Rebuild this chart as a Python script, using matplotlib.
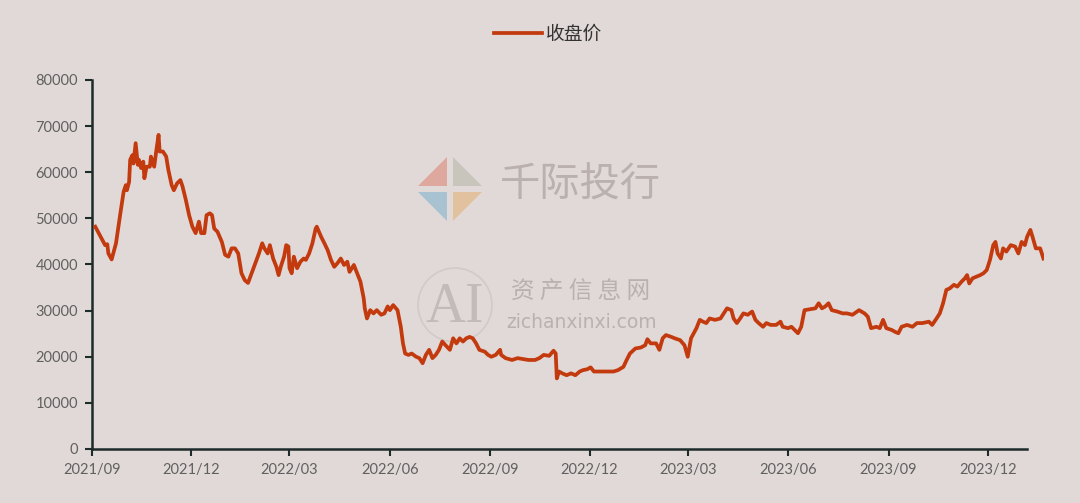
import pandas as pd
import numpy as np
import matplotlib.pyplot as plt
import matplotlib.dates as mdates
from matplotlib.patches import Circle, Polygon
from matplotlib.transforms import IdentityTransform


# =====================================
# Data
# =====================================

START_DATE = "2021-09-01"

# days after 2021-09-01
day_offsets = [
    3, 7, 12, 14, 15, 18, 22, 26, 29, 31,
    32, 34, 35, 37, 38, 40, 42, 43, 45, 47,
    48, 50, 53, 54, 57, 59, 61, 62, 65, 68,
    70, 73, 75, 78, 81, 83, 86, 89, 92, 95,
    98, 100, 103, 105, 108, 110, 112, 115, 119, 122,
    125, 128, 131, 134, 137, 140, 143, 148, 153, 156,
    158, 161, 163, 166, 169, 171, 173, 176, 178, 180,
    181, 183, 185, 188, 191, 194, 196, 199, 202, 205,
    206, 210, 213, 216, 219, 222, 225, 228, 231, 234,
    236, 240, 243, 246, 249, 250, 252, 255, 258, 261,
    265, 268, 271, 273, 276, 280, 283, 285, 287, 290,
    293, 297, 300, 303, 306, 309, 312, 315, 318, 321,
    324, 328, 331, 334, 337, 340, 343, 346, 349, 352,
    355, 360, 363, 366, 370, 374, 375, 379, 385, 390,
    395, 400, 406, 410, 414, 419, 423, 425, 426, 428,
    431, 435, 439, 443, 447, 450, 454, 457, 460, 465,
    471, 478, 482, 487, 490, 493, 498, 503, 507, 509,
    512, 517, 520, 523, 526, 531, 534, 539, 543, 546,
    549, 554, 557, 560, 563, 566, 571, 576, 579, 582,
    586, 588, 591, 594, 597, 601, 605, 608, 611, 615,
    618, 622, 627, 631, 633, 638, 641, 644, 647, 650,
    653, 658, 663, 666, 669, 672, 675, 678, 683, 688,
    692, 697, 703, 708, 711, 714, 719, 722, 725, 728,
    733, 736, 739, 742, 747, 752, 756, 761, 767, 770,
    774, 777, 780, 783, 786, 790, 793, 797, 800, 802,
    804, 807, 811, 814, 817, 820, 823, 826, 828, 830,
    833, 835, 838, 842, 846, 849, 852, 855, 857, 860,
    862, 865, 869, 871, 872
]

close_price = [
    48200, 46400, 44200, 44400, 42400, 41100, 44600, 51100, 55800, 57200,
    56100, 57900, 62700, 63700, 61900, 66300, 61600, 62700, 60900, 62300,
    58700, 61200, 61200, 63400, 61200, 64800, 68100, 64500, 64500, 63400,
    60500, 57200, 56100, 57600, 58300, 56900, 54000, 50700, 48200, 46800,
    49300, 46800, 46800, 50700, 51100, 50700, 47800, 47100, 44900, 42100,
    41700, 43500, 43500, 42400, 38100, 36600, 36000, 39200, 42400, 44600,
    43500, 42400, 44200, 41300, 39500, 37700, 39500, 41700, 44200, 43900,
    39200, 38100, 41700, 39200, 40600, 41300, 41000, 42400, 44600, 47800,
    48200, 46000, 44600, 43100, 41000, 39500, 40300, 41300, 39900, 40600,
    38400, 39900, 38100, 36300, 32700, 30500, 28300, 30100, 29400, 30100,
    29100, 29400, 30900, 30100, 31200, 30100, 26500, 22900, 20700, 20400,
    20700, 20000, 19700, 18600, 20400, 21500, 19700, 20400, 21500, 23300,
    22500, 21500, 24000, 22900, 24000, 23300, 24000, 24300, 24000, 22900,
    21500, 21100, 20400, 20000, 20400, 21500, 20400, 19700, 19300, 19700,
    19500, 19300, 19300, 19700, 20400, 20200, 21300, 20700, 15300, 16800,
    16400, 16000, 16400, 16000, 16800, 17100, 17300, 17700, 16800, 16800,
    16800, 16800, 17100, 17800, 19300, 20700, 21800, 22000, 22500, 23800,
    22900, 22900, 21500, 24000, 24700, 24300, 24000, 23600, 22500, 20000,
    24000, 26200, 28000, 27600, 27300, 28300, 28000, 28300, 29400, 30500,
    30100, 28300, 27300, 28300, 29400, 29100, 29800, 28000, 27300, 26500,
    27300, 26900, 26900, 27600, 26500, 26200, 26500, 25800, 25100, 26500,
    30100, 30300, 30500, 31600, 30500, 30900, 31600, 30100, 29800, 29400,
    29400, 29100, 30100, 29400, 28700, 26200, 26500, 26200, 28000, 26200,
    25800, 25400, 25100, 26500, 26900, 26500, 27300, 27300, 27600, 26900,
    28300, 29400, 31600, 34500, 34800, 35600, 35200, 36300, 37000, 37700,
    35900, 37000, 37400, 37700, 38100, 38800, 41000, 44200, 44900, 42400,
    41300, 43500, 42800, 44200, 43900, 42400, 44900, 44200, 46000, 47500,
    46000, 43500, 43500, 42000, 41300
]

series_name = "收盘价"

y_ticks = [0, 10000, 20000, 30000, 40000, 50000, 60000, 70000, 80000]

x_tick_dates = [
    "2021-09-01", "2021-12-01", "2022-03-01", "2022-06-01", "2022-09-01",
    "2022-12-01", "2023-03-01", "2023-06-01", "2023-09-01", "2023-12-01"
]

assert len(day_offsets) == len(close_price)

start = pd.Timestamp(START_DATE)
dates = start + pd.to_timedelta(day_offsets, unit="D")


# =====================================
# Style
# =====================================

W, H = 1080, 503

BG = "#e1d9d7"
LINE_COLOR = "#c23a0e"
AXIS_COLOR = "#1e2b2b"
TICK_TEXT = "#606060"
WM_COLOR = "#bab1af"

plt.rcParams["font.family"] = ["Lato", "Noto Sans CJK SC", "DejaVu Sans"]


def px(x, y):
    # reference pixel (top-left origin) -> display coords
    return (x, H - y)


# =====================================
# Figure
# =====================================

fig = plt.figure(figsize=(W / 100, H / 100), dpi=100, facecolor=BG)

ax = fig.add_axes([92 / W, 1 - 449 / H, 952 / W, 369 / H])
ax.patch.set_alpha(0)


# =====================================
# Watermarks
# =====================================

cx, cy, s, g = 450, 189, 32, 3
quads = [
    ([(cx - g, cy - g), (cx - g, cy - s), (cx - s, cy - g)], "#dfa89e"),
    ([(cx + g, cy - g), (cx + g, cy - s), (cx + s, cy - g)], "#c8c6bc"),
    ([(cx - g, cy + g), (cx - g, cy + s), (cx - s, cy + g)], "#a8c2d2"),
    ([(cx + g, cy + g), (cx + g, cy + s), (cx + s, cy + g)], "#e2c29e"),
]
for pts, col in quads:
    fig.add_artist(
        Polygon(
            [px(a, b) for a, b in pts],
            closed=True,
            transform=IdentityTransform(),
            facecolor=col,
            edgecolor="none",
            zorder=-1
        )
    )

fig.text(
    580 / W, 1 - 185 / H, "千际投行",
    family=["Noto Sans CJK SC"], fontsize=29, color=WM_COLOR,
    ha="center", va="center", zorder=-1
)

fig.add_artist(
    Circle(
        px(455, 305), 37,
        transform=IdentityTransform(),
        facecolor="none", edgecolor="#d2cac8", linewidth=1.2, zorder=-1
    )
)

fig.text(
    455 / W, 1 - 308 / H, "AI",
    family=["Liberation Serif"], fontsize=40, color="#c3bbb9",
    ha="center", va="center", zorder=-1
)
fig.text(
    581 / W, 1 - 291 / H, "资 产 信 息 网",
    family=["Noto Sans CJK SC"], fontsize=17, color=WM_COLOR,
    ha="center", va="center", zorder=-1
)
fig.text(
    582 / W, 1 - 323 / H, "zichanxinxi.com",
    family=["DejaVu Sans"], fontsize=13.5, color=WM_COLOR,
    ha="center", va="center", zorder=-1
)


# =====================================
# Line
# =====================================

ax.plot(
    dates,
    close_price,
    color=LINE_COLOR,
    linewidth=2.7,
    solid_joinstyle="round",
    label=series_name,
    zorder=3
)


# =====================================
# Axes
# =====================================

ax.set_ylim(0, 80000)
ax.set_yticks(y_ticks)
ax.set_yticklabels([str(v) for v in y_ticks])

ax.set_xlim(start, start + pd.Timedelta(days=872.5))
ax.set_xticks(pd.to_datetime(x_tick_dates))
ax.xaxis.set_major_formatter(mdates.DateFormatter("%Y/%m"))

for side in ["top", "right"]:
    ax.spines[side].set_visible(False)

for side in ["left", "bottom"]:
    ax.spines[side].set_color(AXIS_COLOR)
    ax.spines[side].set_linewidth(1.8)

ax.spines["bottom"].set_bounds(
    mdates.date2num(start),
    mdates.date2num(start + pd.Timedelta(days=857))
)

ax.tick_params(
    axis="both",
    direction="out",
    length=5,
    width=1.5,
    color=AXIS_COLOR,
    labelsize=10.5,
    labelcolor=TICK_TEXT
)
ax.tick_params(axis="x", pad=5)
ax.tick_params(axis="y", pad=5)


# =====================================
# Legend
# =====================================

fig.legend(
    loc="center",
    bbox_to_anchor=(548 / W, 1 - 34 / H),
    frameon=False,
    handlelength=2.6,
    handletextpad=0.2,
    prop={"family": ["Noto Sans CJK SC"], "size": 13.5},
    labelcolor="#333333"
)

fig.savefig("out.png", dpi=100, facecolor=BG)
